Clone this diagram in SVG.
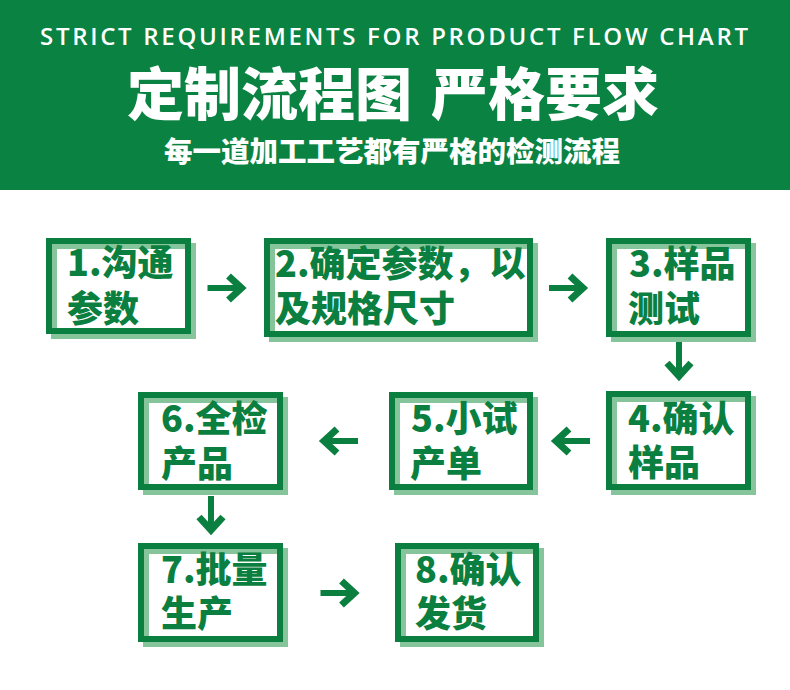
<svg xmlns="http://www.w3.org/2000/svg" xmlns:xlink="http://www.w3.org/1999/xlink" width="790" height="690" viewBox="0 0 790 690">
  <defs>
    <style>
      .hdr { fill: #ffffff; font-family: "Noto Sans CJK SC", "Noto Sans", sans-serif; font-weight: 900; }
      .en { fill: #ffffff; font-family: "Open Sans", "Liberation Sans", sans-serif; font-weight: 600; }
      .shadow { fill: none; stroke: #86c59b; stroke-width: 6; }
      .frame { fill: none; stroke: #0b7f3f; stroke-width: 6; }
      .lbl { fill: #0b7f3f; font-family: "Noto Sans CJK SC", "Noto Sans", sans-serif; font-weight: 900; font-size: 36px; }
      .arr { fill: none; stroke: #0b7f3f; }
    </style>
    <g id="arrow">
      <line class="arr" x1="-20" y1="0" x2="13" y2="0" stroke-width="6"/>
      <polyline class="arr" points="1,-12 14,0 1,12" stroke-width="7" stroke-miterlimit="10"/>
    </g>
  </defs>

  <rect x="0" y="0" width="790" height="690" fill="#ffffff"/>

  <g id="header">
    <rect x="0" y="0" width="790" height="190" fill="#0a8242"/>
    <text class="en" x="40" y="45" font-size="24" textLength="708" lengthAdjust="spacing">STRICT REQUIREMENTS FOR PRODUCT FLOW CHART</text>
    <text class="hdr" x="127" y="115" font-size="57">定制流程图</text>
    <text class="hdr" x="431" y="115" font-size="57">严格要求</text>
    <text class="hdr" x="164" y="162" font-size="28.5">每一道加工工艺都有严格的检测流程</text>
  </g>

  <g id="node1">
    <rect class="shadow" x="54" y="246" width="139" height="90"/>
    <rect class="frame" x="49" y="241" width="139" height="90"/>
    <text class="lbl" x="67" y="276">1.沟通</text>
    <text class="lbl" x="67" y="322">参数</text>
  </g>

  <g id="node2">
    <rect class="shadow" x="272" y="246" width="263" height="93"/>
    <rect class="frame" x="267" y="241" width="263" height="93"/>
    <text class="lbl" x="275" y="277">2.确定参数，以</text>
    <text class="lbl" x="275" y="322">及规格尺寸</text>
  </g>

  <g id="node3">
    <rect class="shadow" x="614" y="246" width="139" height="93"/>
    <rect class="frame" x="609" y="241" width="139" height="93"/>
    <text class="lbl" x="629" y="277">3.样品</text>
    <text class="lbl" x="628" y="322">测试</text>
  </g>

  <g id="node4">
    <rect class="shadow" x="614" y="399" width="139" height="93"/>
    <rect class="frame" x="609" y="394" width="139" height="93"/>
    <text class="lbl" x="628" y="432">4.确认</text>
    <text class="lbl" x="628" y="476">样品</text>
  </g>

  <g id="node5">
    <rect class="shadow" x="397" y="400" width="138" height="92"/>
    <rect class="frame" x="392" y="395" width="138" height="92"/>
    <text class="lbl" x="411" y="432">5.小试</text>
    <text class="lbl" x="410" y="477">产单</text>
  </g>

  <g id="node6">
    <rect class="shadow" x="146" y="400" width="139" height="92"/>
    <rect class="frame" x="141" y="395" width="139" height="92"/>
    <text class="lbl" x="161" y="432">6.全检</text>
    <text class="lbl" x="161" y="477">产品</text>
  </g>

  <g id="node7">
    <rect class="shadow" x="146" y="551" width="139" height="93"/>
    <rect class="frame" x="141" y="546" width="139" height="93"/>
    <text class="lbl" x="161" y="583">7.批量</text>
    <text class="lbl" x="161" y="627">生产</text>
  </g>

  <g id="node8">
    <rect class="shadow" x="403" y="551" width="138" height="93"/>
    <rect class="frame" x="398" y="546" width="138" height="93"/>
    <text class="lbl" x="415" y="583">8.确认</text>
    <text class="lbl" x="415" y="627">发货</text>
  </g>

  <g id="connectors">
    <use xlink:href="#arrow" transform="translate(227.5,288)"/>
    <use xlink:href="#arrow" transform="translate(569,288)"/>
    <use xlink:href="#arrow" transform="translate(679,362) rotate(90)"/>
    <use xlink:href="#arrow" transform="translate(570,441) rotate(180)"/>
    <use xlink:href="#arrow" transform="translate(338,441) rotate(180)"/>
    <use xlink:href="#arrow" transform="translate(211,516) rotate(90)"/>
    <use xlink:href="#arrow" transform="translate(340.5,593)"/>
  </g>
</svg>
